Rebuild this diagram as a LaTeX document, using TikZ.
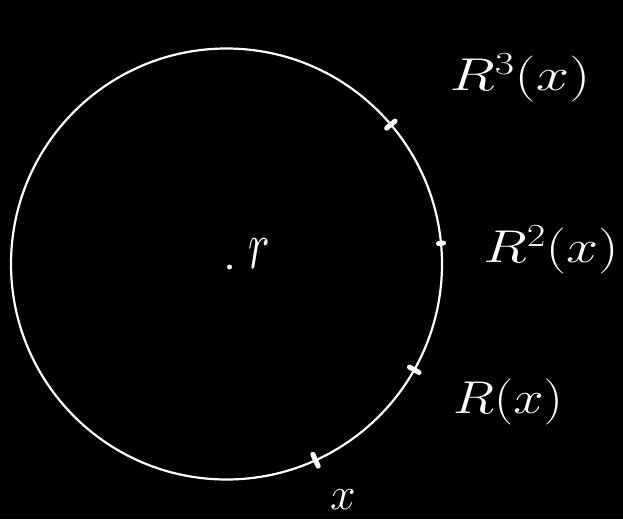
\RequirePackage{fix-cm}
\documentclass[tikz,border=0pt]{standalone}
\usetikzlibrary{calc}
\begin{document}
\begin{tikzpicture}[x=1pt,y=-1pt,
  lbl/.style={text=white,inner sep=0pt,font=\fontsize{46}{50}\selectfont},
  ptmark/.style={draw=white,line width=5pt,line cap=round}]
\useasboundingbox[fill=black] (0,0) rectangle (623,519);
\coordinate (c) at (226.5,264);
\draw[white,line width=2.2pt] (c) circle[radius=215.5];
% points on the circle (image angles, y downward)
\coordinate (p0) at ($(c)+(65.6:215.5)$);
\coordinate (p1) at ($(c)+(29.4:215.5)$);
\coordinate (p2) at ($(c)+(-5.5:215.5)$);
\coordinate (p3) at ($(c)+(-40.3:215.5)$);
\draw[ptmark] ($(c)+(65.6:209)$) -- ($(c)+(65.6:222)$);
\draw[ptmark] ($(c)+(29.4:210)$) -- ($(c)+(29.4:221)$);
\draw[ptmark] ($(c)+(-5.5:213)$) -- ($(c)+(-5.5:218)$);
\draw[ptmark] ($(c)+(-40.3:210)$) -- ($(c)+(-40.3:221)$);
% centre
\fill[white] (229.5,267) circle[radius=2.5pt];
\node[lbl,yscale=1.5,transform shape] (r) at (259,254) {$r$};
% labels
\node[lbl] (lx) at (343,500) {$x$};
\node[lbl,xscale=1.18,transform shape] (l1) at (508,402) {$R(x)$};
\node[lbl,xscale=1.25,transform shape] (l2) at (551,250) {$R^2(x)$};
\node[lbl,xscale=1.3,transform shape] (l3) at (520,78) {$R^3(x)$};
\end{tikzpicture}
\end{document}
